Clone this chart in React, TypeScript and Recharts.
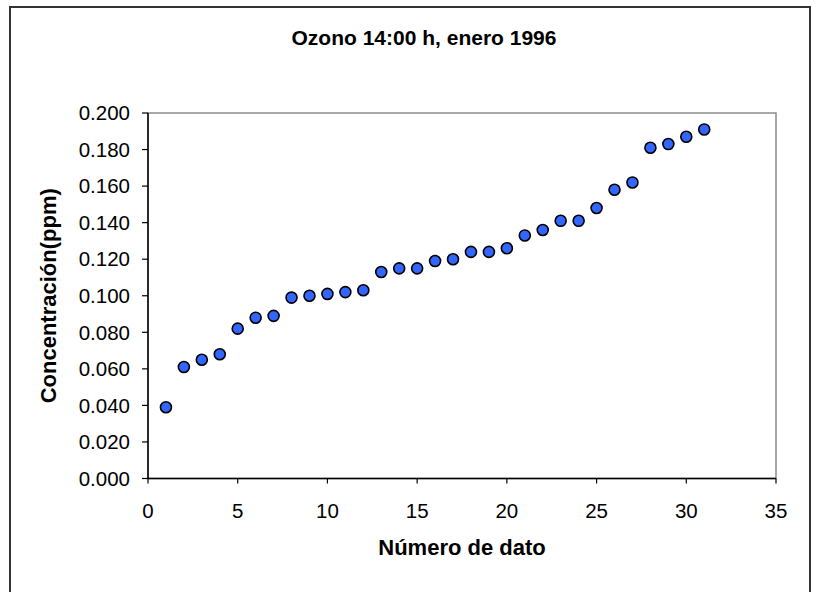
import React from "react";
import {
  ScatterChart,
  Scatter,
  XAxis,
  YAxis,
  ReferenceArea,
} from "recharts";

// ozone readings at 14:00, January 1996 (sorted)
const datoNum = [
  1, 2, 3, 4, 5, 6, 7, 8, 9, 10, 11, 12, 13, 14, 15, 16, 17, 18, 19, 20, 21,
  22, 23, 24, 25, 26, 27, 28, 29, 30, 31,
];
const concentracion = [
  0.039, 0.061, 0.065, 0.068, 0.082, 0.088, 0.089, 0.099, 0.1, 0.101, 0.102,
  0.103, 0.113, 0.115, 0.115, 0.119, 0.12, 0.124, 0.124, 0.126, 0.133, 0.136,
  0.141, 0.141, 0.148, 0.158, 0.162, 0.181, 0.183, 0.187, 0.191,
];
const xTicks = [0, 5, 10, 15, 20, 25, 30, 35];
const yTicks = [0, 0.02, 0.04, 0.06, 0.08, 0.1, 0.12, 0.14, 0.16, 0.18, 0.2];

const FONT = '"Liberation Sans", Arial, sans-serif';

const Dot = (props: any) => {
  const { cx, cy } = props;
  if (cx == null || cy == null) return null;
  return (
    <circle
      cx={cx}
      cy={cy}
      r={5.5}
      fill="#3366ff"
      stroke="#000"
      strokeWidth={1.6}
    />
  );
};

const App: React.FC = () => {
  const data = datoNum.map((n, i) => ({ x: n, y: concentracion[i] }));
  return (
    <div
      style={{
        position: "absolute",
        left: 0,
        top: 0,
        width: 816,
        height: 592,
        overflow: "hidden",
        background: "#fff",
      }}
    >
      <div
        style={{
          position: "absolute",
          left: 9,
          top: 6,
          width: 802,
          height: 700,
          boxSizing: "border-box",
          border: "2px solid #333",
        }}
      />
      <div
        style={{
          position: "absolute",
          left: 224,
          top: 28,
          width: 400,
          textAlign: "center",
          fontFamily: FONT,
          fontWeight: "bold",
          fontSize: 21,
          lineHeight: "20px",
          color: "#000",
        }}
      >
        Ozono 14:00 h, enero 1996
      </div>
      <div style={{ position: "absolute", left: 0, top: 0 }}>
        <ScatterChart
          width={816}
          height={592}
          margin={{ top: 113, right: 40, bottom: 83.5, left: 48 }}
        >
          <ReferenceArea
            x1={0}
            x2={35}
            y1={0}
            y2={0.2}
            fill="none"
            stroke="#8c8c8c"
            strokeWidth={1.5}
          />
          <XAxis
            type="number"
            dataKey="x"
            domain={[0, 35]}
            ticks={xTicks}
            height={30}
            tickSize={5}
            tickMargin={19.5}
            axisLine={{ stroke: "#000", strokeWidth: 1.5 }}
            tickLine={{ stroke: "#000", strokeWidth: 1.2 }}
            tick={{ fill: "#000", fontSize: 20.5, fontFamily: FONT }}
            label={{
              value: "Número de dato",
              position: "bottom",
              offset: 31,
              style: {
                fontFamily: FONT,
                fontWeight: "bold",
                fontSize: 22,
                fill: "#000",
              },
            }}
          />
          <YAxis
            type="number"
            dataKey="y"
            domain={[0, 0.2]}
            ticks={yTicks}
            width={100}
            tickSize={6}
            tickMargin={12}
            tickFormatter={(v: number) => v.toFixed(3)}
            axisLine={{ stroke: "#000", strokeWidth: 1.5 }}
            tickLine={{ stroke: "#000", strokeWidth: 1.2 }}
            tick={{ fill: "#000", fontSize: 20.5, fontFamily: FONT }}
            label={{
              value: "Concentración(ppm)",
              angle: -90,
              position: "insideLeft",
              offset: 3,
              dx: -3,
              textAnchor: "middle",
              style: {
                fontFamily: FONT,
                fontWeight: "bold",
                fontSize: 22,
                fill: "#000",
                textAnchor: "middle",
              },
            }}
          />
          <Scatter
            data={data}
            shape={<Dot />}
            isAnimationActive={false}
          />
        </ScatterChart>
      </div>
    </div>
  );
};

export default App;
